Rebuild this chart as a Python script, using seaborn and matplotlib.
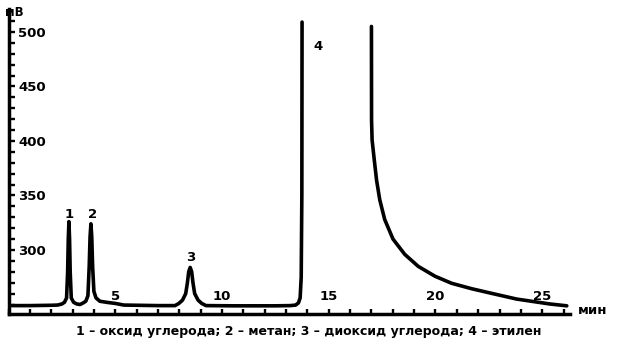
import matplotlib
matplotlib.use("Agg")
import matplotlib.pyplot as plt
import seaborn as sns
import pandas as pd
from matplotlib.ticker import MultipleLocator, FixedLocator

# ---- data (time in min, signal in mV) ----
# segment before the detector goes off-scale (peaks 1, 2, 3 and rise of peak 4)
time_a = [0.15, 1.0, 2.0, 2.3, 2.5, 2.62, 2.72, 2.77, 2.80, 2.83, 2.86, 2.89, 2.94, 3.05, 3.2,
          3.35, 3.5, 3.62, 3.72, 3.78, 3.82, 3.86, 3.90, 3.94, 4.0, 4.1, 4.28, 4.6, 5.0, 5.4,
          7.0, 7.8, 7.98, 8.15, 8.3, 8.38, 8.44, 8.51, 8.58, 8.64, 8.72, 8.88, 9.05, 9.25,
          10.5, 12.5, 13.2, 13.45, 13.58, 13.66, 13.71, 13.74, 13.75]
signal_a = [249, 249, 249.3, 249.5, 250.5, 252, 256, 280, 310, 326, 310, 280, 256, 252, 250.5,
            250, 251.5, 253, 258, 285, 312, 324, 312, 285, 262, 256, 253, 252, 251, 249.5,
            249, 249, 251, 254, 260, 270, 280, 284, 280, 270, 260, 254, 251, 249,
            248.8, 248.8, 249, 249.5, 251.5, 256, 275, 350, 509]
# segment after the signal comes back on scale (tail of peak 4)
time_b = [17.0, 17.005, 17.03, 17.13, 17.24, 17.39, 17.62, 18.01, 18.56, 19.19, 19.97,
          20.75, 21.69, 22.68, 23.8, 25.35, 26.15]
signal_b = [505, 419, 401, 383, 364, 346, 328, 310, 296, 285, 276,
            269.5, 264.5, 260, 255, 250.5, 248.8]

y_major = [300, 350, 400, 450, 500]
y_labels = ["300", "350", "400", "450", "500"]
x_major = [5, 10, 15, 20, 25]
x_labels = ["5", "10", "15", "20", "25"]
peak_names = ["1", "2", "3", "4"]
peak_label_t = [2.86, 3.95, 8.55, 14.5]
peak_label_v = [333, 333, 293, 487]
caption = "1 – оксид углерода; 2 – метан; 3 – диоксид углерода; 4 – этилен"

df_a = pd.DataFrame({"t": time_a, "mv": signal_a})
df_b = pd.DataFrame({"t": time_b, "mv": signal_b})

sns.set_theme(style="white")
plt.rcParams["font.family"] = ["DejaVu Sans"]
plt.rcParams["text.color"] = "black"
plt.rcParams["xtick.color"] = "black"
plt.rcParams["ytick.color"] = "black"

W, H = 617, 349
fig = plt.figure(figsize=(W / 100, H / 100), dpi=100)
ax = fig.add_axes([8.5 / W, 35 / H, (570 - 8.5) / W, (314 - 9) / H])

lw = 2.6
sns.lineplot(data=df_a, x="t", y="mv", ax=ax, color="black", lw=lw,
             estimator=None, sort=False)
sns.lineplot(data=df_b, x="t", y="mv", ax=ax, color="black", lw=lw,
             estimator=None, sort=False)

ax.set_xlim(0, 26.3)
ax.set_ylim(241.3, 521)
ax.set_xlabel("")
ax.set_ylabel("")

for s in ["top", "right"]:
    ax.spines[s].set_visible(False)
for s in ["left", "bottom"]:
    ax.spines[s].set_linewidth(2.5)
    ax.spines[s].set_color("black")

ax.xaxis.set_major_locator(FixedLocator(x_major))
ax.set_xticklabels(x_labels)
ax.xaxis.set_minor_locator(MultipleLocator(1))
ax.yaxis.set_major_locator(FixedLocator(y_major))
ax.set_yticklabels(y_labels)
ax.yaxis.set_minor_locator(FixedLocator(list(range(250, 520, 10))))

ax.tick_params(axis="both", which="both", direction="in", color="black",
               labelcolor="black", bottom=True, left=True)
ax.tick_params(axis="y", which="both", length=4.5, width=1.7)
ax.tick_params(axis="x", which="both", length=3.8, width=1.7)
ax.tick_params(axis="y", which="major", pad=-7, labelsize=9.5)
ax.tick_params(axis="x", which="major", pad=-17, labelsize=9.5)
for t in ax.get_yticklabels():
    t.set_horizontalalignment("left")
    t.set_fontweight("bold")
for t in ax.get_xticklabels():
    t.set_fontweight("bold")

for name, tx, ty in zip(peak_names, peak_label_t, peak_label_v):
    ax.text(tx, ty, name, ha="center", va="center", fontsize=9.5,
            fontweight="bold", color="black")

fig.text(5 / W, 1 - 13 / H, "мВ", ha="left", va="center", fontsize=8.5,
         fontweight="bold", color="black")
fig.text(578 / W, 1 - 311 / H, "мин", ha="left", va="center", fontsize=9.5,
         fontweight="bold", color="black")
fig.text(0.5, 1 - 331 / H, caption, ha="center", va="center", fontsize=9,
         fontweight="bold", color="black")

fig.savefig("out.png", dpi=100, facecolor="white")
